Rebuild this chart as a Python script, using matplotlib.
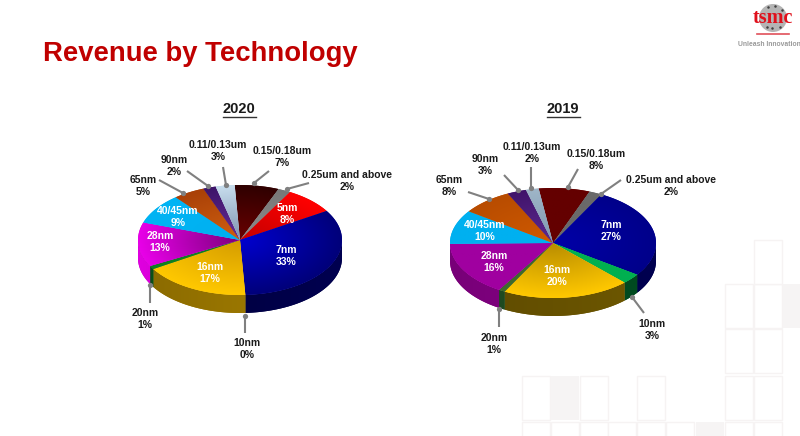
import numpy as np
import matplotlib
matplotlib.use("Agg")
import matplotlib.pyplot as plt
from matplotlib.colors import to_rgb
from matplotlib.patches import Circle, Polygon, Rectangle

plt.rcParams['font.family'] = ['Liberation Sans', 'DejaVu Sans']

# data
nodes_2020 = ["0.15/0.18um", "0.25um and above", "5nm", "7nm", "10nm", "16nm", "20nm",
              "28nm", "40/45nm", "65nm", "90nm", "0.11/0.13um"]
share_2020 = [7, 2, 8, 33, 0, 17, 1, 13, 9, 5, 2, 3]
nodes_2019 = ["0.15/0.18um", "0.25um and above", "7nm", "10nm", "16nm", "20nm",
              "28nm", "40/45nm", "65nm", "90nm", "0.11/0.13um"]
share_2019 = [8, 2, 27, 3, 20, 1, 16, 10, 8, 3, 2]

# centre colour, rim colour, side colour left, side colour right
style_2020 = {
    "0.15/0.18um": ("#6a0000", "#2e0000", "#300000", "#300000"),
    "0.25um and above": ("#8c8c8c", "#777777", "#555555", "#555555"),
    "5nm": ("#c40000", "#ff0000", "#800000", "#800000"),
    "7nm": ("#0000d0", "#00007a", "#000038", "#000050"),
    "10nm": ("#00b050", "#00b050", "#005020", "#005020"),
    "16nm": ("#d49c00", "#ffc800", "#8a6a00", "#a98200"),
    "20nm": ("#108020", "#108020", "#0a5018", "#0a5018"),
    "28nm": ("#7c007c", "#e800e8", "#e000e0", "#8a008a"),
    "40/45nm": ("#00b0f0", "#00b4f4", "#006090", "#006090"),
    "65nm": ("#d06010", "#a84008", "#703000", "#703000"),
    "90nm": ("#6a2c98", "#3c1468", "#301050", "#301050"),
    "0.11/0.13um": ("#7f93b0", "#c8deee", "#607080", "#607080"),
}
style_2019 = {
    "0.15/0.18um": ("#640000", "#640000", "#300000", "#300000"),
    "0.25um and above": ("#6a6a6a", "#6a6a6a", "#444444", "#444444"),
    "7nm": ("#0000a8", "#00008a", "#000040", "#000050"),
    "10nm": ("#00b050", "#00b050", "#004a20", "#004a20"),
    "16nm": ("#b88c00", "#ffc800", "#5e4a00", "#6e5800"),
    "20nm": ("#3e6a2c", "#3e6a2c", "#1e4a20", "#1e4a20"),
    "28nm": ("#a000a0", "#a000a0", "#780078", "#8a008a"),
    "40/45nm": ("#00b0f0", "#00b0f0", "#006090", "#006090"),
    "65nm": ("#d05a00", "#b84c00", "#703000", "#703000"),
    "90nm": ("#5e2a90", "#40146a", "#301050", "#301050"),
    "0.11/0.13um": ("#7f98b0", "#9fb6c8", "#607080", "#607080"),
}

# layout, all in pixels of the 800x436 slide
pie_2020 = dict(cx=240, cy=240, rx=102, ry=55, depth=18, start=-3)
pie_2019 = dict(cx=553, cy=243, rx=103, ry=55, depth=18, start=-8)

inside_2020 = {"5nm": (287, 214), "7nm": (286, 256), "16nm": (210, 273), "28nm": (160, 242), "40/45nm": (178, 217)}
inside_2019 = {"7nm": (611, 231), "16nm": (557, 276), "28nm": (494, 262), "40/45nm": (485, 231)}

# label centre, leader start at the pie, leader end at the label
callout_2020 = {
    "0.15/0.18um": ((282, 157), (254, 183), (269, 171)),
    "0.25um and above": ((347, 181), (287, 189), (309, 183)),
    "10nm": ((247, 349), (245, 316), (245, 333)),
    "20nm": ((145, 319), (150, 285), (150, 303)),
    "65nm": ((143, 186), (183, 193), (159, 180)),
    "90nm": ((174, 166), (208, 186), (187, 171)),
    "0.11/0.13um": ((218, 151), (226, 185), (223, 167)),
}
callout_2019 = {
    "0.15/0.18um": ((596, 160), (568, 187), (578, 169)),
    "0.25um and above": ((671, 186), (601, 194), (621, 180)),
    "10nm": ((652, 330), (632, 297), (644, 313)),
    "20nm": ((494, 344), (499, 309), (499, 327)),
    "65nm": ((449, 186), (489, 199), (468, 192)),
    "90nm": ((485, 165), (518, 190), (504, 175)),
    "0.11/0.13um": ((532, 153), (531, 188), (531, 167)),
}

# faint slide background cells
cell_w, cell_h = 28, 44
outlined_cells = [(725, 284), (754, 284), (725, 329), (754, 329), (754, 240), (522, 376), (580, 376), (637, 376),
                  (725, 376), (754, 376), (522, 422), (551, 422), (580, 422), (608, 422), (637, 422), (666, 422),
                  (725, 422), (754, 422)]
shaded_cells = [(783, 284), (551, 376), (696, 422)]
logo_dots_x = [768, 775, 782, 767, 772, 780]
logo_dots_y = [7, 6, 10, 27, 28, 27]


def lerp_image(t, c0, c1):
    c0 = np.array(to_rgb(c0))
    c1 = np.array(to_rgb(c1))
    return c0 + (c1 - c0) * np.clip(t, 0, 1)[..., None]


def shaded_poly(ax, pts, image, extent, zorder):
    # flat polygon underneath so edges stay closed, gradient clipped on top
    poly = Polygon(pts, closed=True, facecolor=image.reshape(-1, 3).mean(axis=0), edgecolor="none", zorder=zorder)
    ax.add_patch(poly)
    im = ax.imshow(image, extent=extent, origin="upper", aspect="auto", interpolation="bilinear", zorder=zorder)
    im.set_clip_path(poly)


def draw_pie(ax, names, values, style, pie):
    cx, cy, rx, ry, depth = pie["cx"], pie["cy"], pie["rx"], pie["ry"], pie["depth"]
    edges = pie["start"] + np.cumsum([0] + list(values)) * 3.6
    xx, yy = np.meshgrid(np.linspace(cx - rx - 2, cx + rx + 2, 220), np.linspace(cy - ry - 2, cy + ry + 2, 120))
    rr = np.hypot((xx - cx) / rx, (yy - cy) / ry)
    extent = (cx - rx - 2, cx + rx + 2, cy + ry + 2, cy - ry - 2)
    sx = np.linspace(0, 1, 220)[None, :]
    side_ext = (cx - rx, cx + rx, cy + ry + depth + 2, cy - 2)

    for name, a0, a1 in zip(names, edges[:-1], edges[1:]):
        if a1 <= a0:
            continue
        c0, c1, s0, s1 = style[name]
        # outer wall, only the part that faces the viewer
        lo, hi = max(a0, 90), min(a1, 270)
        if lo < hi:
            th = np.radians(np.linspace(lo, hi, 60))
            x = cx + rx * np.sin(th)
            y = cy - ry * np.cos(th)
            wall = np.column_stack([np.r_[x, x[::-1]], np.r_[y, y[::-1] + depth]])
            shaded_poly(ax, wall, lerp_image(sx, s0, s1), side_ext, 2)

    for name, a0, a1 in zip(names, edges[:-1], edges[1:]):
        if a1 <= a0:
            continue
        c0, c1, s0, s1 = style[name]
        th = np.radians(np.linspace(a0, a1, 60))
        pts = np.column_stack([np.r_[cx, cx + rx * np.sin(th)], np.r_[cy, cy - ry * np.cos(th)]])
        shaded_poly(ax, pts, lerp_image(rr, c0, c1), extent, 3)


def draw_labels(ax, names, values, inside, callout):
    share = dict(zip(names, values))
    for name, (x, y) in inside.items():
        ax.text(x, y, f"{name}\n{share[name]}%", color="white", fontsize=7.5, fontweight="bold",
                ha="center", va="center", linespacing=1.3, zorder=6)
    for name, (label, p0, p1) in callout.items():
        ax.plot([p0[0], p1[0]], [p0[1], p1[1]], color="#808080", lw=1.5, zorder=5, solid_capstyle="butt")
        ax.plot(*p0, "o", color="#808080", ms=3.8, mec="none", zorder=5)
        ax.text(label[0], label[1], f"{name}\n{share[name]}%", color="#1a1a1a", fontsize=7.5, fontweight="bold",
                ha="center", va="center", linespacing=1.3, zorder=6)


fig = plt.figure(figsize=(8, 4.36), dpi=100)
ax = fig.add_axes([0, 0, 1, 1])

for x, y in outlined_cells:
    ax.add_patch(Rectangle((x, y), cell_w, cell_h, facecolor="white", edgecolor="#f6f3f3", lw=1, zorder=0))
for x, y in shaded_cells:
    ax.add_patch(Rectangle((x, y), cell_w, cell_h, facecolor="#f6f4f4", edgecolor="none", zorder=0))

draw_pie(ax, nodes_2020, share_2020, style_2020, pie_2020)
draw_pie(ax, nodes_2019, share_2019, style_2019, pie_2019)
draw_labels(ax, nodes_2020, share_2020, inside_2020, callout_2020)
draw_labels(ax, nodes_2019, share_2019, inside_2019, callout_2019)

ax.text(43, 54, "Revenue by Technology", color="#c00000", fontsize=19.8, fontweight="bold", ha="left", va="center")

for year, x in [("2020", 239), ("2019", 563)]:
    ax.text(x, 109, year, color="#1a1a1a", fontsize=10.5, fontweight="bold", ha="center", va="center")
    ax.plot([x - 16.5, x + 16.5], [117, 117], color="#333333", lw=1)

# logo
ax.add_patch(Circle((773, 18), 14, facecolor="#b4b4b4", edgecolor="none", zorder=2))
ax.plot(logo_dots_x, logo_dots_y, "o", color="#404040", ms=1.8, mec="none", zorder=2.5)
ax.text(773, 18, "tsmc", color="#e0101c", fontsize=14.5, fontweight="bold", family="Liberation Serif",
        ha="center", va="center", zorder=3)
ax.plot([757, 789], [34, 34], color="#e0505a", lw=1.2)
ax.text(738, 45, "Unleash Innovation", color="#9a9a9a", fontsize=4.9, fontweight="bold", ha="left", va="center")

ax.set_xlim(0, 800)
ax.set_ylim(436, 0)
ax.axis("off")

fig.savefig("out.png", dpi=100, facecolor="white")
